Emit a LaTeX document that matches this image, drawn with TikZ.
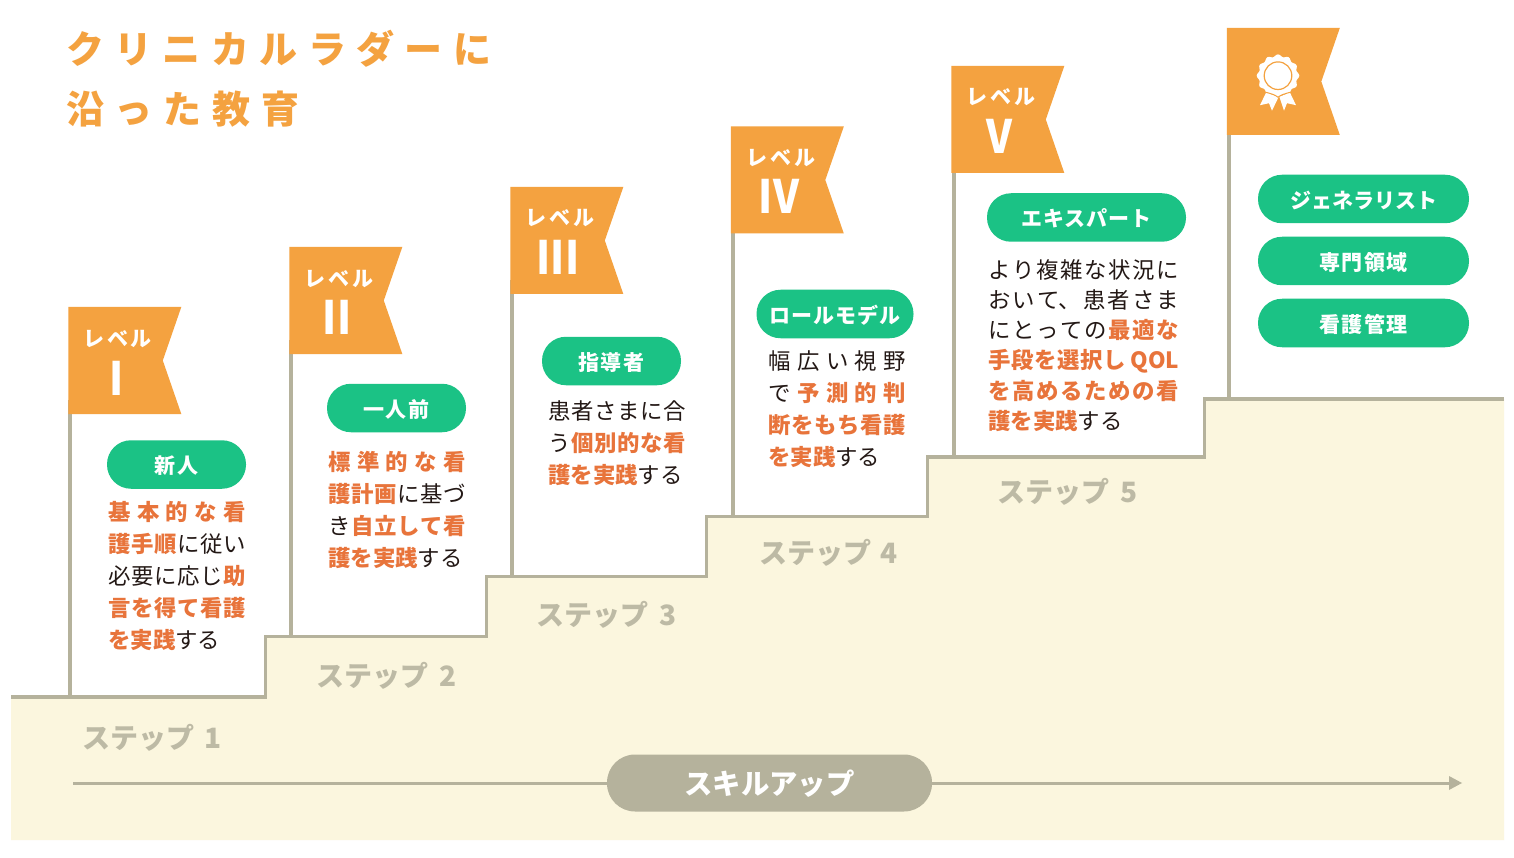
\documentclass[tikz,border=0pt]{standalone}
\usepackage{fontspec}
\setmainfont{Noto Sans CJK JP}
\newfontfamily\kanjipill[LetterSpace=6]{Noto Sans CJK JP}
\newfontfamily\kanapill[LetterSpace=4]{Noto Sans CJK JP}
\newfontfamily\lvlfont[LetterSpace=12]{Noto Sans CJK JP}
\XeTeXlinebreaklocale "ja"
\XeTeXlinebreakskip=0pt plus 30pt
\definecolor{flagor}{HTML}{F4A240}
\definecolor{accent}{HTML}{E8743B}
\definecolor{pillgreen}{HTML}{1BC285}
\definecolor{stair}{HTML}{B5B29C}
\definecolor{cream}{HTML}{FBF6DE}
\definecolor{steptxt}{HTML}{BDBAA5}
\definecolor{bodytxt}{HTML}{231815}
\newcommand\jl[2]{\parbox{#1pt}{\tolerance=10000\hbadness=10000\hfuzz=20pt\parfillskip=0pt\leavevmode #2}}
\newcommand\hl[1]{{\bfseries\color{accent}#1}}
\newcommand\gl{\hskip 0pt plus 30pt\relax}
\newcommand\flagat[2]{\fill[flagor] (#1,#2) -- ++(113,0) -- ++(-18.5,53.5) -- ++(18.5,53.5) -- ++(-113,0) -- cycle;}
\tikzset{
 body/.style={anchor=west,inner sep=0pt,text=bodytxt,font=\fontsize{22.4}{26}\selectfont},
 pill/.style={fill=pillgreen,text=white,inner sep=0pt,minimum height=48.5pt,rounded corners=24pt,text height=18.5pt,text depth=0pt},
 kanjip/.style={pill,font=\kanjipill\bfseries\fontsize{21}{24}\selectfont},
 kanap/.style={pill,font=\kanapill\bfseries\fontsize{21}{24}\selectfont},
 lvl/.style={text=white,inner sep=0pt,font=\lvlfont\bfseries\fontsize{21}{24}\selectfont},
 roman/.style={text=white,inner sep=0pt,xscale=.88,font=\bfseries\fontsize{46}{50}\selectfont},
 steplabel/.style={anchor=west,inner sep=0pt,text=steptxt,font=\bfseries\fontsize{28}{31}\selectfont},
 title/.style={anchor=west,inner sep=0pt,text=flagor,font=\bfseries\fontsize{38}{42}\selectfont},
 pole/.style={draw=stair,line width=3.6pt},
}
\begin{document}
\begin{tikzpicture}[x=1pt,y=-1pt]
\useasboundingbox[fill=white] (0,0) rectangle (1514,858);
% stairs
\fill[cream] (11,697) -- (265.5,697) -- (265.5,636.6) -- (486.4,636.6) -- (486.4,576.6) -- (706.5,576.6) -- (706.5,516.6) -- (927.6,516.6) -- (927.6,457) -- (1204.6,457) -- (1204.6,399) -- (1504,399) -- (1504,840) -- (11,840) -- cycle;
\draw[pole] (11,697) -- (265.5,697) -- (265.5,636.6) -- (486.4,636.6) -- (486.4,576.6) -- (706.5,576.6) -- (706.5,516.6) -- (927.6,516.6) -- (927.6,457) -- (1204.6,457) -- (1204.6,399) -- (1504,399);
% poles
\draw[pole] (70,400) -- (70,697);
\draw[pole] (291,340) -- (291,636.6);
\draw[pole] (512,280) -- (512,576.6);
\draw[pole] (733,220) -- (733,516.6);
\draw[pole] (954,160) -- (954,457);
\draw[pole] (1229,125) -- (1229,399);
% flags
\flagat{68.3}{307}
\flagat{289.3}{247}
\flagat{510.3}{187}
\flagat{730.8}{126.5}
\flagat{951.3}{66}
\flagat{1226.8}{28}
% flag text
\node[lvl] (l1) at (118,339) {レベル};
\node[lvl] (l2) at (339,279) {レベル};
\node[lvl] (l3) at (560,218.5) {レベル};
\node[lvl] (l4) at (781,158) {レベル};
\node[lvl] (l5) at (1001,97) {レベル};
\node[roman] (r1) at (116.5,378) {I};
\node[roman] (r2) at (337,317.5) {II};
\node[roman] (r3) at (558,257) {III};
\node[roman] (r4) at (779,196.5) {IV};
\node[roman] (r5) at (999,136) {V};
% medal
\begin{scope}[shift={(1278,75.7)}]
\fill[white] plot[smooth cycle,samples=96,domain=0:356.25,variable=\t] ({(20.2+1.1*cos(12*\t))*cos(\t)},{(20.2+1.1*cos(12*\t))*sin(\t)});
\draw[flagor,line width=1.2pt] (0,0) circle (13.8);
\fill[white] (-12,17) -- (0.7,21) -- (-6,35) -- (-9,27.5) -- (-18,29.5) -- cycle;
\fill[white] (12,17) -- (1.3,21) -- (6,35) -- (9,27.5) -- (18,29.5) -- cycle;
\draw[flagor,line width=1pt] (-12.5,16.5) .. controls (-7,18) and (-3,19) .. (0,21.5) .. controls (3,19) and (7,18) .. (12.5,16.5);
\end{scope}
% title
\node[title] (t1) at (66,49) {\jl{425}{クリニカルラダーに}};
\node[title] (t2) at (66,109.5) {\jl{233}{沿った教育}};
% pills
\node[kanjip,minimum width=139pt] (p1) at (176.5,464.5) {新人};
\node[kanjip,minimum width=139pt] (p2) at (396.5,408) {一人前};
\node[kanjip,minimum width=139pt] (p3) at (611.5,361) {指導者};
\node[kanap,minimum width=157pt] (p4) at (835,314) {ロールモデル};
\node[kanap,minimum width=199pt] (p5) at (1086.5,217.5) {エキスパート};
\node[pill,minimum width=211pt,font=\bfseries\fontsize{21}{24}\selectfont] (p6a) at (1363.5,199) {ジェネラリスト};
\node[kanjip,minimum width=211pt] (p6b) at (1363.5,261) {専門領域};
\node[kanjip,minimum width=211pt] (p6c) at (1363.5,323) {看護管理};
% level 1 text
\node[body] (a1) at (108,512) {\jl{138}{\hl{基本的な看}}};
\node[body] (a2) at (108,544) {\jl{138}{\hl{護手順}\gl に従い}};
\node[body] (a3) at (108,576) {\jl{138}{必要に応じ\gl\hl{助}}};
\node[body] (a4) at (108,608) {\jl{138}{\hl{言を得て看護}}};
\node[body] (a5) at (108,640) {\hl{を実践}する};
% level 2 text
\node[body] (b1) at (328,462) {\jl{138}{\hl{標準的な看}}};
\node[body] (b2) at (328,494) {\jl{138}{\hl{護計画}\gl に基づ}};
\node[body] (b3) at (328,526) {\jl{138}{き\gl\hl{自立して看}}};
\node[body] (b4) at (328,558) {\hl{護を実践}する};
% level 3 text
\node[body] (c1) at (548,411) {\jl{138}{患者さまに合}};
\node[body] (c2) at (548,443) {\jl{138}{う\gl\hl{個別的な看}}};
\node[body] (c3) at (548,475) {\hl{護を実践}する};
% level 4 text
\node[body] (d1) at (768,361) {\jl{138}{幅広い視野}};
\node[body] (d2) at (768,393) {\jl{138}{で\gl\hl{予測的判}}};
\node[body] (d3) at (768,425) {\jl{138}{\hl{断をもち看護}}};
\node[body] (d4) at (768,457) {\hl{を実践}する};
% level 5 text
\node[body] (e1) at (988,270) {\jl{191}{より複雑な状況に}};
\node[body] (e2) at (988,300) {\jl{191}{おいて、患者さま}};
\node[body] (e3) at (988,330) {\jl{191}{にとっての\gl\hl{最適な}}};
\node[body] (e4) at (988,361) {\jl{191}{\hl{手段を選択し QOL}}};
\node[body] (e5) at (988,391) {\jl{191}{\hl{を高めるための看}}};
\node[body] (e6) at (988,421) {\hl{護を実践}する};
% steps
\node[steplabel] (s1) at (82,738) {\hbox to 139pt{ステップ\hfill 1}};
\node[steplabel] (s2) at (316,676) {\hbox to 140pt{ステップ\hfill 2}};
\node[steplabel] (s3) at (536,615) {\hbox to 140pt{ステップ\hfill 3}};
\node[steplabel] (s4) at (759,553) {\hbox to 138pt{ステップ\hfill 4}};
\node[steplabel] (s5) at (997,492) {\hbox to 140pt{ステップ\hfill 5}};
% skill-up arrow
\coordinate (as) at (73,783);
\coordinate (ae) at (1462,783);
\draw[stair,line width=3pt] (as) -- (1450,783);
\fill[stair] (ae) -- (1449,776) -- (1449,790) -- cycle;
\node[fill=stair,text=white,inner sep=0pt,minimum width=325pt,minimum height=57pt,rounded corners=28pt,text height=22.6pt,text depth=0pt,font=\bfseries\fontsize{28.4}{32}\selectfont] (skill) at (769.5,783) {スキルアップ};
\end{tikzpicture}
\end{document}
